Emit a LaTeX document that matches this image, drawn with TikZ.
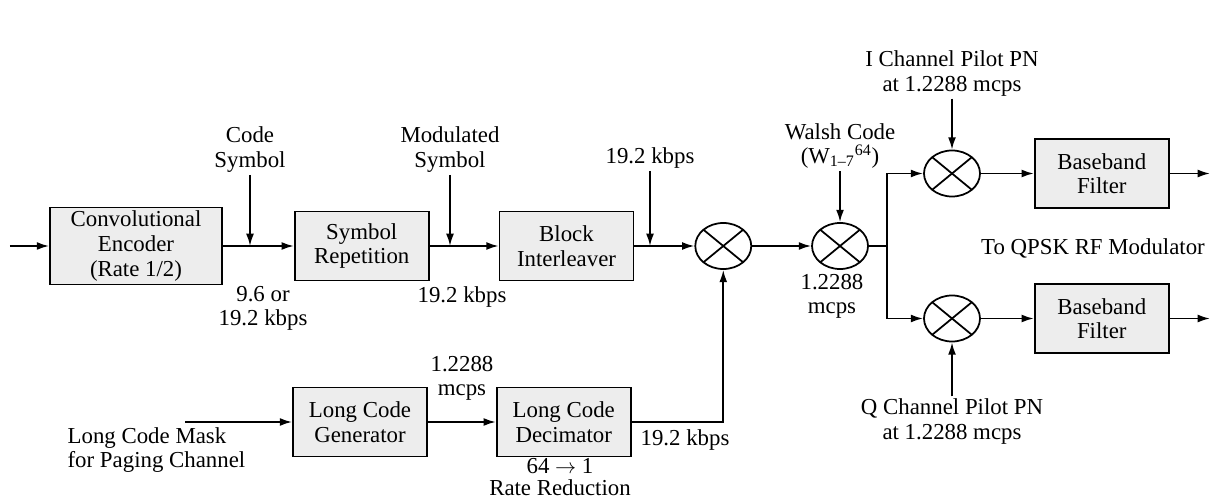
\documentclass[tikz,border=0pt]{standalone}
\usepackage{fontspec}
\setmainfont{Liberation Serif}
\usepackage{tikz}
\usetikzlibrary{arrows.meta, positioning, calc, shapes.geometric}

\tikzset{
  blk/.style={draw, line width=1pt, fill=gray!14, align=center,
    minimum width=2.68cm, minimum height=1.38cm, inner sep=2pt},
  mixer/.style={draw, ellipse, line width=1pt, minimum width=1.12cm,
    minimum height=0.92cm, inner sep=0pt,
    path picture={
      \draw[line width=1pt] (path picture bounding box.north west) -- (path picture bounding box.south east);
      \draw[line width=1pt] (path picture bounding box.south west) -- (path picture bounding box.north east);
    }},
  lbl/.style={align=center, inner sep=1pt}
}

\begin{document}
\begin{tikzpicture}[>={Latex[length=7pt,width=4.5pt]}, line width=1pt,
    font=\fontsize{13}{14}\selectfont]
            \useasboundingbox (0,0) rectangle (24.3,-10.08);

            % upper chain
            \node[blk, minimum width=3.44cm, minimum height=1.54cm] (enc) at (2.72,-4.92) {Convolutional\\Encoder\\(Rate 1/2)};
            \node[blk, right=1.42cm of enc] (rep) {Symbol\\Repetition};
            \node[blk, right=1.38cm of rep] (intl) {Block\\Interleaver};
            \node[mixer, right=1.2cm of intl] (mix1) {};
            \node[mixer, right=1.18cm of mix1] (mix2) {};
            \coordinate (split) at (17.74,-4.92);
            \node[mixer] (mix3) at (19.04,-3.47) {};
            \node[mixer] (mix4) at (19.04,-6.37) {};
            \node[blk, right=1.06cm of mix3] (filti) {Baseband\\Filter};
            \node[blk, right=1.06cm of mix4] (filtq) {Baseband\\Filter};
            \coordinate (datain) at (0.2,-4.92);
            \coordinate (outi) at (24.2,-3.47);
            \coordinate (outq) at (24.2,-6.37);

            % lower chain
            \node[blk] (gen) at (7.2,-8.44) {Long Code\\Generator};
            \node[blk, right=1.36cm of gen] (dec) {Long Code\\Decimator};
            \coordinate (maskin) at (3.7,-8.44);

            % taps on the upper line
            \coordinate (tapcode) at (5.0,-4.92);
            \coordinate (tapmod) at (9.0,-4.92);
            \coordinate (tapint) at (13.0,-4.92);
            \node[lbl, above=1.42cm of tapcode] (codesym) {Code\\Symbol};
            \node[lbl, above=1.42cm of tapmod] (modsym) {Modulated\\Symbol};
            \node[lbl, above=1.5cm of tapint] (rate3) {19.2 kbps};
            \node[lbl, above=1.02cm of mix2] (walsh) {Walsh Code\\(W\textsubscript{1--7}\textsuperscript{64})};
            \node[lbl, above=1.02cm of mix3] (pilot_i) {I Channel Pilot PN\\at 1.2288 mcps};
            \node[lbl, below=1.08cm of mix4] (pilot_q) {Q Channel Pilot PN\\at 1.2288 mcps};

            % rate labels
            \node[lbl] (rate1) at (5.26,-6.17) {9.6 or\\19.2 kbps};
            \node[lbl] (rate2) at (9.24,-5.94) {19.2 kbps};
            \node[lbl] (chip2) at (16.64,-5.93) {1.2288\\mcps};
            \node[lbl] (chip1) at (9.24,-7.57) {1.2288\\mcps};
            \node[lbl] (rate4) at (13.7,-8.8) {19.2 kbps};
            \node[lbl, font=\fontsize{13}{12.5}\selectfont] (reduct) at (11.2,-9.55) {64 $\rightarrow$ 1\\Rate Reduction};
            \node[lbl, align=left, anchor=west] (mask) at (1.3,-9.0) {Long Code Mask\\for Paging Channel};
            \node[lbl] (toqpsk) at (21.86,-4.96) {To QPSK RF Modulator};

            \draw[->] (datain) -- (enc);
            \draw[->] (enc) -- (rep);
            \draw[->] (rep) -- (intl);
            \draw[->] (intl) -- (mix1);
            \draw[->] (mix1) -- (mix2);
            \draw (mix2) -- (split);
            \draw[->] (split) |- (mix3);
            \draw[->] (split) |- (mix4);
            \draw[->] (mix3) -- (filti);
            \draw[->] (mix4) -- (filtq);
            \draw[->] (filti) -- (outi);
            \draw[->] (filtq) -- (outq);
            \draw[->] (maskin) -- (gen);
            \draw[->] (gen) -- (dec);
            \draw[->] (dec) -| (mix1);
            \draw[->] (codesym) -- (tapcode);
            \draw[->] (modsym) -- (tapmod);
            \draw[->] (rate3) -- (tapint);
            \draw[->] (walsh) -- (mix2);
            \draw[->] (pilot_i) -- (mix3);
            \draw[->] (pilot_q) -- (mix4);
        \end{tikzpicture}
\end{document}
